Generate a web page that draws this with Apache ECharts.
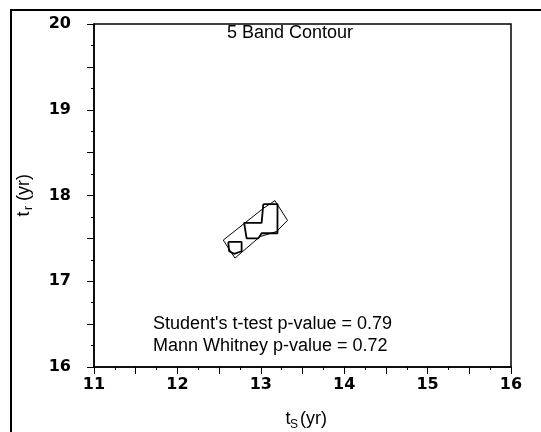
<!DOCTYPE html>
<html>
<head>
<meta charset="utf-8">
<script src="https://cdn.jsdelivr.net/npm/echarts@6/dist/echarts.min.js"></script>
<style>html,body{margin:0;padding:0;background:#fff;}#chart{width:541px;height:432px;}</style>
</head>
<body>
<div id="chart"></div>
<script>
// ---- data ----
const chartTitle = '5 Band Contour';
const xRange = [11, 16];
const yRange = [16, 20];
// contour polygons [tS, tr]
const contourOuter = [[12.55,17.48],[12.81,17.68],[13.03,17.85],[13.17,17.94],[13.32,17.71],[13.19,17.58],[12.99,17.52],[12.69,17.27],[12.55,17.48]];
const contourMid = [[13.03,17.90],[13.20,17.90],[13.20,17.56],[13.01,17.56],[12.97,17.50],[12.83,17.50],[12.80,17.68],[13.01,17.68],[13.03,17.90]];
const contourInner = [[12.61,17.46],[12.77,17.46],[12.77,17.35],[12.68,17.32],[12.62,17.35],[12.61,17.46]];
const statLines = ["Student's t-test p-value = 0.79", 'Mann Whitney p-value = 0.72'];

const chart = echarts.init(document.getElementById('chart'), null, {renderer: 'canvas'});
const reg = 'Liberation Sans, Arial, sans-serif';
const tickFont = {fontFamily: 'DejaVu Sans', fontWeight: 'bold', fontSize: 16, color: '#000'};

function contourSeries(data, w) {
  return {type: 'line', data: data, symbol: 'none', silent: true, animation: false,
    lineStyle: {color: '#000', width: w}};
}

const option = {
  animation: false,
  backgroundColor: '#fff',
  grid: {left: 94, right: 30, top: 24, bottom: 65, show: true, borderColor: '#000', borderWidth: 1.5},
  xAxis: {
    type: 'value', min: xRange[0], max: xRange[1], interval: 0.5,
    axisLine: {show: true, lineStyle: {color: '#000', width: 1.5}},
    axisTick: {show: true, length: 7, lineStyle: {color: '#000'}},
    minorTick: {show: true, splitNumber: 2, length: 3, lineStyle: {color: '#000'}},
    splitLine: {show: false},
    axisLabel: Object.assign({margin: 10, formatter: v => Number.isInteger(v) ? String(v) : ''}, tickFont)
  },
  yAxis: {
    type: 'value', min: yRange[0], max: yRange[1], interval: 0.5,
    axisLine: {show: true, lineStyle: {color: '#000', width: 1.5}},
    axisTick: {show: true, length: 7, lineStyle: {color: '#000'}},
    minorTick: {show: true, splitNumber: 2, length: 3, lineStyle: {color: '#000'}},
    splitLine: {show: false},
    axisLabel: Object.assign({margin: 23, formatter: v => Number.isInteger(v) ? String(v) : ''}, tickFont)
  },
  series: [contourSeries(contourOuter, 1), contourSeries(contourMid, 1.8), contourSeries(contourInner, 1.8)],
  graphic: [
    {type: 'rect', shape: {x: 11, y: 10, width: 600, height: 500}, style: {fill: 'none', stroke: '#000', lineWidth: 2}, silent: true},
    {type: 'text', x: 290, y: 33, style: {text: chartTitle, font: '18px ' + reg, fill: '#000', align: 'center', verticalAlign: 'middle'}},
    {type: 'text', x: 153, y: 313, style: {text: statLines.join('\n'), font: '18px ' + reg, lineHeight: 22, fill: '#000', align: 'left', verticalAlign: 'top'}},
    // x axis title
    {type: 'text', x: 288, y: 419, style: {text: 't', font: '18px ' + reg, fill: '#000', align: 'center', verticalAlign: 'middle'}},
    {type: 'text', x: 294, y: 425, style: {text: 'S', font: '12px ' + reg, fill: '#000', align: 'center', verticalAlign: 'middle'}},
    {type: 'text', x: 300, y: 419, style: {text: '(yr)', font: '18px ' + reg, fill: '#000', align: 'left', verticalAlign: 'middle'}},
    // y axis title (rotated)
    {type: 'group', x: 24, y: 195, rotation: Math.PI / 2, children: [
      {type: 'text', x: -19, y: 0, style: {text: 't', font: '18px ' + reg, fill: '#000', align: 'center', verticalAlign: 'middle'}},
      {type: 'text', x: -13, y: 5, style: {text: 'r', font: '12px ' + reg, fill: '#000', align: 'center', verticalAlign: 'middle'}},
      {type: 'text', x: -6, y: 0, style: {text: '(yr)', font: '18px ' + reg, fill: '#000', align: 'left', verticalAlign: 'middle'}}
    ]}
  ]
};
chart.setOption(option);
</script>
</body>
</html>
